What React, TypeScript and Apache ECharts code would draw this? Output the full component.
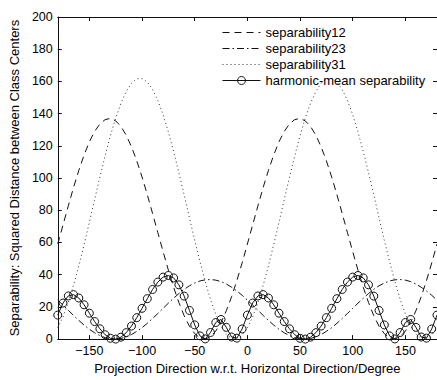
import React, { useEffect, useRef } from "react";
import * as echarts from "echarts";

const angles = [
  -180, -175, -170, -165, -160, -155, -150, -145, -140, -135, -130, -125, -120, -115, -110, -105, -100, -95, -90, -85,
  -80, -75, -70, -65, -60, -55, -50, -45, -40, -35, -30, -25, -20, -15, -10, -5, 0, 5, 10, 15, 20, 25, 30, 35, 40, 45,
  50, 55, 60, 65, 70, 75, 80, 85, 90, 95, 100, 105, 110, 115, 120, 125, 130, 135, 140, 145, 150, 155, 160, 165, 170,
  175, 180,
];

const separability12 = [
  59.0, 70.9, 82.7, 94.2, 104.8, 114.3, 122.5, 129.0, 133.6, 136.3, 137.0, 135.5, 132.0, 126.6, 119.4, 110.7, 100.7,
  89.7, 78.0, 66.1, 54.3, 42.8, 32.2, 22.7, 14.5, 8.0, 3.4, 0.7, 0.0, 1.5, 5.0, 10.4, 17.6, 26.3, 36.3, 47.3,
  59.0, 70.9, 82.7, 94.2, 104.8, 114.3, 122.5, 129.0, 133.6, 136.3, 137.0, 135.5, 132.0, 126.6, 119.4, 110.7, 100.7,
  89.7, 78.0, 66.1, 54.3, 42.8, 32.2, 22.7, 14.5, 8.0, 3.4, 0.7, 0.0, 1.5, 5.0, 10.4, 17.6, 26.3, 36.3, 47.3, 59.0,
];

const separability23 = [
  24.2, 21.1, 17.9, 14.7, 11.6, 8.7, 6.1, 3.9, 2.2, 0.9, 0.2, 0.0, 0.4, 1.4, 2.8, 4.8, 7.1, 9.8, 12.8, 15.9, 19.1,
  22.3, 25.4, 28.3, 30.9, 33.1, 34.8, 36.1, 36.8, 37.0, 36.6, 35.7, 34.2, 32.2, 29.9, 27.2,
  24.2, 21.1, 17.9, 14.7, 11.6, 8.7, 6.1, 3.9, 2.2, 0.9, 0.2, 0.0, 0.4, 1.4, 2.8, 4.8, 7.1, 9.8, 12.8, 15.9, 19.1,
  22.3, 25.4, 28.3, 30.9, 33.1, 34.8, 36.1, 36.8, 37.0, 36.6, 35.7, 34.2, 32.2, 29.9, 27.2, 24.2,
];

const separability31 = [
  7.0, 13.8, 22.7, 33.4, 45.5, 58.7, 72.5, 86.7, 100.6, 113.9, 126.3, 137.3, 146.5, 153.8, 158.9, 161.6, 161.8,
  159.6, 155.0, 148.2, 139.3, 128.6, 116.5, 103.3, 89.5, 75.3, 61.4, 48.1, 35.7, 24.7, 15.5, 8.2, 3.1, 0.4, 0.2, 2.4,
  7.0, 13.8, 22.7, 33.4, 45.5, 58.7, 72.5, 86.7, 100.6, 113.9, 126.3, 137.3, 146.5, 153.8, 158.9, 161.6, 161.8,
  159.6, 155.0, 148.2, 139.3, 128.6, 116.5, 103.3, 89.5, 75.3, 61.4, 48.1, 35.7, 24.7, 15.5, 8.2, 3.1, 0.4, 0.2, 2.4,
  7.0,
];

const harmonicMean = [
  14.9, 22.4, 26.8, 27.6, 25.5, 21.3, 16.1, 10.9, 6.4, 2.7, 0.5, 0.0, 1.2, 4.0, 8.1, 13.3, 19.1, 25.1, 30.8, 35.4,
  38.5, 39.5, 38.0, 33.7, 26.7, 17.8, 8.8, 2.0, 0.1, 4.1, 10.3, 12.2, 7.3, 1.3, 0.6, 6.3,
  14.9, 22.4, 26.8, 27.6, 25.5, 21.3, 16.1, 10.9, 6.4, 2.7, 0.5, 0.0, 1.2, 4.0, 8.1, 13.3, 19.1, 25.1, 30.8, 35.4,
  38.5, 39.5, 38.0, 33.7, 26.7, 17.8, 8.8, 2.0, 0.1, 4.1, 10.3, 12.2, 7.3, 1.3, 0.6, 6.3, 14.9,
];

const xTicks = [-150, -100, -50, 0, 50, 100, 150];
const seriesNames = ["separability12", "separability23", "separability31", "harmonic-mean separability"];
const xTitle = "Projection Direction w.r.t. Horizontal Direction/Degree";
const yTitle = "Separability: Squared Distance between Class Centers";

const FONT = '"Liberation Sans", Arial, Helvetica, sans-serif';
const INK = "#111";
const CLEAR = "rgba(0,0,0,0)";

const zip = (ys: number[]) => angles.map((a, i) => [a, ys[i]]);
const fmt = (v: number) => String(v).replace("-", "\u2212");

export default function App() {
  const ref = useRef<HTMLDivElement>(null);

  useEffect(() => {
    if (!ref.current) return;
    const chart = echarts.init(ref.current, null, { renderer: "svg" });
    const gridLeft = 54;
    const gridTop = 17;
    const gridW = 383;
    const gridH = 331;

    const frameAxisLine = { show: true, onZero: false, lineStyle: { color: INK, width: 1 } };
    const hiddenSymbol = { color: CLEAR, borderColor: CLEAR, borderWidth: 0 };
    const tickFont = { color: "#000", fontSize: 12.5, fontFamily: FONT };
    const titleFont = { color: "#000", fontSize: 13, fontFamily: FONT };

    chart.setOption({
      animation: false,
      backgroundColor: "#fff",
      grid: { left: gridLeft, top: gridTop, width: gridW, height: gridH, containLabel: false },
      legend: {
        orient: "vertical",
        left: 222,
        top: 26,
        itemWidth: 38,
        itemHeight: 10,
        itemGap: 3,
        padding: 0,
        data: [
          { name: seriesNames[0], itemStyle: hiddenSymbol, lineStyle: { width: 1, color: INK, type: [7, 5] } },
          { name: seriesNames[1], itemStyle: hiddenSymbol, lineStyle: { width: 1, color: INK, type: [7, 3, 1.5, 3] } },
          { name: seriesNames[2], itemStyle: hiddenSymbol, lineStyle: { width: 1, color: "#333", type: [1, 3] } },
          {
            name: seriesNames[3],
            itemStyle: { color: CLEAR, borderColor: INK, borderWidth: 1 },
            lineStyle: { width: 1, color: INK, type: "solid" },
          },
        ],
        textStyle: titleFont,
      },
      xAxis: [
        {
          type: "value",
          position: "bottom",
          min: -180,
          max: 180,
          axisLine: frameAxisLine,
          axisTick: { show: true, inside: true, length: 4, customValues: xTicks, lineStyle: { color: INK } },
          axisLabel: { customValues: xTicks, formatter: fmt, margin: 5, ...tickFont },
          splitLine: { show: false },
          name: xTitle,
          nameLocation: "middle",
          nameGap: 21,
          nameTextStyle: titleFont,
        },
        {
          type: "value",
          position: "top",
          min: -180,
          max: 180,
          axisLine: frameAxisLine,
          axisTick: { show: true, inside: true, length: 4, customValues: xTicks, lineStyle: { color: INK } },
          axisLabel: { show: false },
          splitLine: { show: false },
        },
      ],
      yAxis: [
        {
          type: "value",
          position: "left",
          min: 0,
          max: 200,
          interval: 20,
          axisLine: frameAxisLine,
          axisTick: { show: true, inside: true, length: 4, lineStyle: { color: INK } },
          axisLabel: { margin: 5, ...tickFont },
          splitLine: { show: false },
          name: yTitle,
          nameLocation: "middle",
          nameGap: 25,
          nameTextStyle: titleFont,
        },
        {
          type: "value",
          position: "right",
          min: 0,
          max: 200,
          interval: 20,
          axisLine: frameAxisLine,
          axisTick: { show: true, inside: true, length: 4, lineStyle: { color: INK } },
          axisLabel: { show: false },
          splitLine: { show: false },
        },
      ],
      series: [
        {
          name: seriesNames[0],
          type: "line",
          data: zip(separability12),
          symbol: "none",
          lineStyle: { color: INK, width: 1, type: [7, 5] },
          itemStyle: { color: INK },
        },
        {
          name: seriesNames[1],
          type: "line",
          data: zip(separability23),
          symbol: "none",
          lineStyle: { color: INK, width: 1, type: [7, 3, 1.5, 3] },
          itemStyle: { color: INK },
        },
        {
          name: seriesNames[2],
          type: "line",
          data: zip(separability31),
          symbol: "none",
          lineStyle: { color: "#333", width: 1, type: [1, 3] },
          itemStyle: { color: "#333" },
        },
        {
          name: seriesNames[3],
          type: "line",
          data: zip(harmonicMean),
          symbol: "circle",
          symbolSize: 8,
          showAllSymbol: true,
          lineStyle: { color: INK, width: 1 },
          itemStyle: { color: CLEAR, borderColor: INK, borderWidth: 1 },
        },
      ],
    });

    return () => chart.dispose();
  }, []);

  return (
    <div
      ref={ref}
      style={{ position: "fixed", left: 0, top: 0, width: 437, height: 380, background: "#fff" }}
    />
  );
}
